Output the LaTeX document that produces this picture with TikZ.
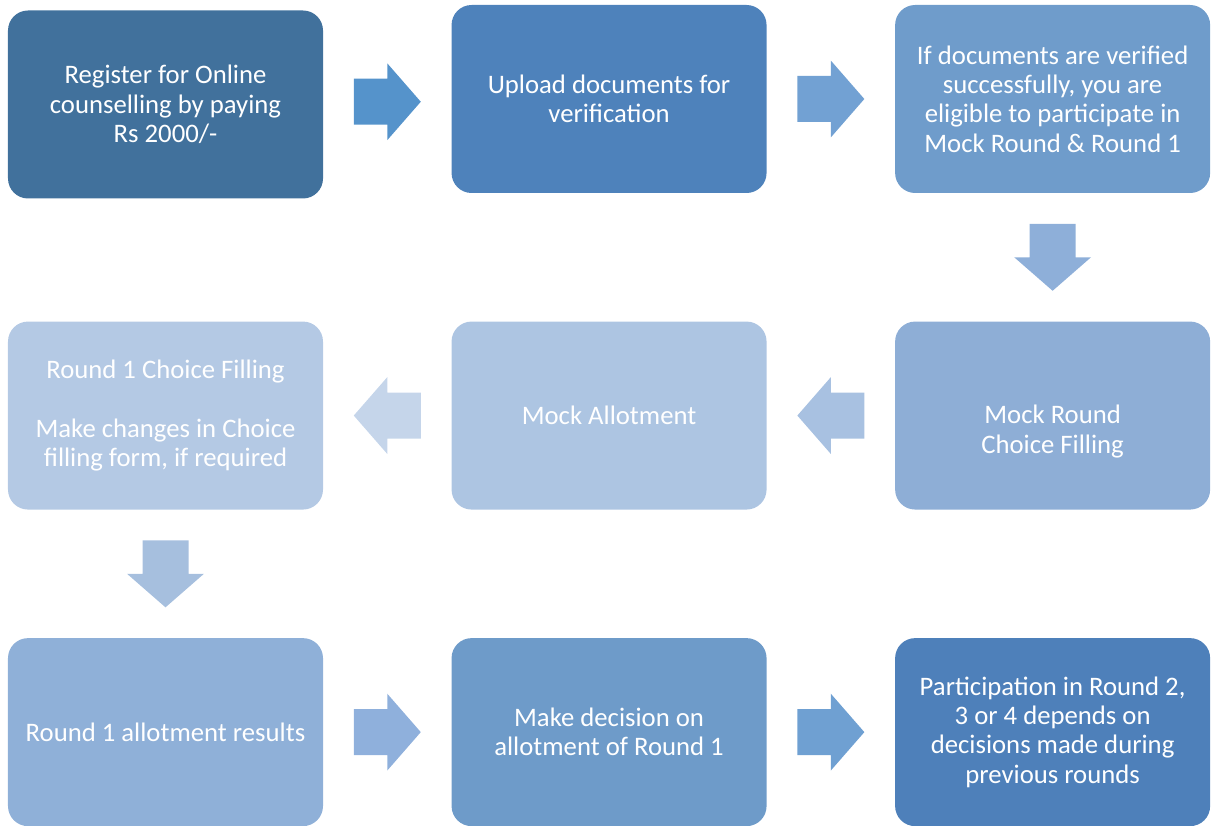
\documentclass[tikz,border=0pt]{standalone}
\usepackage{fontspec}
\setmainfont{Carlito}
\usepackage{tikz}
\usetikzlibrary{positioning,calc}

\definecolor{boxA}{RGB}{65,113,156}
\definecolor{boxB}{RGB}{78,130,187}
\definecolor{boxC}{RGB}{111,156,203}
\definecolor{boxD}{RGB}{142,174,214}
\definecolor{boxE}{RGB}{173,197,226}
\definecolor{boxF}{RGB}{180,201,228}
\definecolor{boxG}{RGB}{143,176,216}
\definecolor{boxH}{RGB}{110,155,201}
\definecolor{boxI}{RGB}{78,128,186}
\definecolor{arrA}{RGB}{85,147,203}
\definecolor{arrB}{RGB}{114,161,211}
\definecolor{arrC}{RGB}{142,175,217}
\definecolor{arrD}{RGB}{168,193,225}
\definecolor{arrE}{RGB}{197,213,234}
\definecolor{arrF}{RGB}{166,191,222}
\definecolor{arrG}{RGB}{143,176,220}
\definecolor{arrH}{RGB}{111,160,210}

\tikzset{
  boxtext/.style={text=white, align=center, font=\fontsize{19}{20.8}\selectfont},
  stepbox/.style={rectangle, rounded corners=0.5cm, fill=#1, draw=none, boxtext,
    minimum width=7.875cm, minimum height=4.7cm, inner sep=0pt},
}
% block arrow half way between two boxes
\newcommand{\flowarrow}[4]{%
  \fill[#4, shift={($(#1)!0.5!(#2)$)}, rotate=#3] (-0.8375,-0.575) -- (0,-0.575) -- (0,-0.96) -- (0.8375,0) -- (0,0.96) -- (0,0.575) -- (-0.8375,0.575) -- cycle;}

\begin{document}
\begin{tikzpicture}
    \useasboundingbox (0,0) rectangle (30.275,-20.65);%page size
    \node (reg) [stepbox=boxA] at (4.1375,-2.6125) {Register for Online\\counselling by paying\\Rs 2000/-};%draws register box
    \node (upl) [stepbox=boxB, right=3.2cm of reg, yshift=0.1375cm] {Upload documents for\\verification};%draws upload box
    \node (ver) [stepbox=boxC, right=3.2cm of upl] {If documents are verified\\successfully, you are\\eligible to participate in\\Mock Round \& Round 1};%draws verified box
    \node (mcf) [stepbox=boxD, below=3.2cm of ver, label={[boxtext, yshift=-0.4cm]center:Mock Round\\Choice Filling}] {};%draws mock choice box
    \node (mal) [stepbox=boxE, left=3.2cm of mcf] {Mock Allotment};%draws mock allotment box
    \node (rcf) [stepbox=boxF, left=3.2cm of mal] {Round 1 Choice Filling\\[20.8pt]Make changes in Choice\\filling form, if required};%draws round 1 choice box
    \node (res) [stepbox=boxG, below=3.2cm of rcf] {Round 1 allotment results};%draws results box
    \node (dec) [stepbox=boxH, right=3.2cm of res] {Make decision on\\allotment of Round 1};%draws decision box
    \node (nxt) [stepbox=boxI, right=3.2cm of dec] {Participation in Round 2,\\3 or 4 depends on\\decisions made during\\previous rounds};%draws next rounds box
    \flowarrow{reg}{upl}{0}{arrA}%reg to upl
    \flowarrow{upl}{ver}{0}{arrB}%upl to ver
    \flowarrow{ver}{mcf}{-90}{arrC}%ver to mcf
    \flowarrow{mcf}{mal}{180}{arrD}%mcf to mal
    \flowarrow{mal}{rcf}{180}{arrE}%mal to rcf
    \flowarrow{rcf}{res}{-90}{arrF}%rcf to res
    \flowarrow{res}{dec}{0}{arrG}%res to dec
    \flowarrow{dec}{nxt}{0}{arrH}%dec to nxt
\end{tikzpicture}
\end{document}
